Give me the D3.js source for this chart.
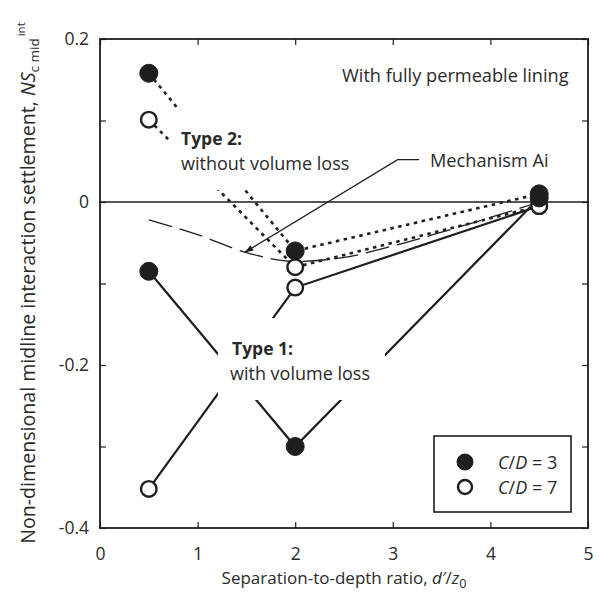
<!DOCTYPE html>
<html>
<head>
<meta charset="utf-8">
<script src="https://cdn.jsdelivr.net/npm/d3@7"></script>
<style>
  html, body { margin: 0; padding: 0; background: #fff; }
  svg { display: block; }
  text { font-family: "Open Sans", "Lato", sans-serif; fill: #2a2a2a; }
</style>
</head>
<body>
<script>
// Separation-to-depth ratios of the tunnel pairs
const separations = [0.5, 2, 4.5];

// Type 1 (with volume loss), solid lines
const type1CD3 = [-0.085, -0.30, 0.005];
const type1CD7 = [-0.352, -0.105, -0.005];

// Type 2 (without volume loss), dotted lines
const type2CD3 = [0.158, -0.06, 0.01];
const type2CD7 = [0.101, -0.08, -0.005];

// Mechanism Ai prediction curve
const mechX = [0.5, 1.0, 1.5, 2.0, 2.5, 3.0, 3.5, 4.0, 4.5];
const mechY = [-0.022, -0.04, -0.062, -0.073, -0.068, -0.054, -0.037, -0.019, 0.0];

// Axis ticks
const xTicks = [0, 1, 2, 3, 4, 5];
const yMajorTicks = [0.2, 0, -0.2, -0.4];
const yMinorTicks = [0.2, 0.1, 0, -0.1, -0.2, -0.3, -0.4];

const W = 601, H = 592;
const margin = { left: 100, right: 13, top: 39, bottom: 64 };

const svg = d3.select("body").append("svg").attr("width", W).attr("height", H);

const x = d3.scaleLinear().domain([0, 5]).range([margin.left, W - margin.right]);
const y = d3.scaleLinear().domain([-0.4, 0.2]).range([H - margin.bottom, margin.top]);

const ink = "#1e1e1e";
const FONT = '"Open Sans", sans-serif';

// Frame ticks (inward) on all four sides
const axB = d3.axisBottom(x).tickValues(xTicks).tickSize(-6).tickFormat("");
const axT = d3.axisTop(x).tickValues(xTicks).tickSize(-6).tickFormat("");
const axL = d3.axisLeft(y).tickValues(yMinorTicks).tickSize(-6).tickFormat("");
const axR = d3.axisRight(y).tickValues(yMinorTicks).tickSize(-6).tickFormat("");
[[axB, `translate(0,${y(-0.4)})`], [axT, `translate(0,${y(0.2)})`],
 [axL, `translate(${x(0)},0)`], [axR, `translate(${x(5)},0)`]].forEach(([ax, tr]) => {
  const g = svg.append("g").attr("transform", tr).call(ax);
  g.select(".domain").remove();
  g.selectAll("line").attr("stroke", ink).attr("stroke-width", 1.2);
});

// Tick labels
const xl = svg.append("g").attr("transform", `translate(0,${y(-0.4)})`)
  .call(d3.axisBottom(x).tickValues(xTicks).tickSize(0).tickPadding(20).tickFormat(d3.format("d")));
xl.select(".domain").remove();
xl.selectAll("text").style("font-size", "17.5px").style("font-family", FONT).attr("fill", "#2a2a2a");

const yl = svg.append("g").attr("transform", `translate(${x(0)},0)`)
  .call(d3.axisLeft(y).tickValues(yMajorTicks).tickSize(0).tickPadding(11)
    .tickFormat(d => d === 0 ? "0" : d3.format(".1f")(d).replace("\u2212", "-")));
yl.select(".domain").remove();
yl.selectAll("text").style("font-size", "17.5px").style("font-family", FONT).attr("fill", "#2a2a2a");

// Zero line
svg.append("line")
  .attr("x1", x(0)).attr("x2", x(5)).attr("y1", y(0)).attr("y2", y(0))
  .attr("stroke", ink).attr("stroke-width", 1.3);

// Mechanism Ai curve
const mechData = mechX.map((v, i) => [v, mechY[i]]);
svg.append("path")
  .datum(mechData)
  .attr("fill", "none").attr("stroke", ink).attr("stroke-width", 1.3)
  .attr("stroke-dasharray", "24,8")
  .attr("d", d3.line().x(d => x(d[0])).y(d => y(d[1])).curve(d3.curveMonotoneX));

const lineGen = d3.line().x(d => x(d[0])).y(d => y(d[1]));
const pts = arr => separations.map((s, i) => [s, arr[i]]);

// Type 2 dotted lines
[type2CD3, type2CD7].forEach(arr => {
  svg.append("path").datum(pts(arr))
    .attr("fill", "none").attr("stroke", ink).attr("stroke-width", 2.6)
    .attr("stroke-dasharray", "3.5,4.5")
    .attr("d", lineGen);
});

// Type 1 solid lines
[type1CD3, type1CD7].forEach(arr => {
  svg.append("path").datum(pts(arr))
    .attr("fill", "none").attr("stroke", ink).attr("stroke-width", 2.2)
    .attr("d", lineGen);
});

// White label backgrounds that break the lines
function labelBlock(x0, y0, w, h) {
  svg.append("rect").attr("x", x0).attr("y", y0).attr("width", w).attr("height", h).attr("fill", "#fff");
}
labelBlock(170, 110, 185, 80);
labelBlock(218, 318, 167, 82);

// Markers
function markers(arr, filled) {
  svg.append("g").selectAll("circle").data(pts(arr)).join("circle")
    .attr("cx", d => x(d[0])).attr("cy", d => y(d[1]))
    .attr("r", filled ? 9 : 7.8)
    .attr("fill", filled ? ink : "#fff")
    .attr("stroke", ink).attr("stroke-width", filled ? 1 : 2.4);
}
markers(type2CD7, false);
markers(type1CD7, false);
markers(type2CD3, true);
markers(type1CD3, true);

// Mechanism Ai leader
const leader = [[1.48, -0.062], [3.05, 0.052], [3.27, 0.052]];
svg.append("path")
  .attr("fill", "none").attr("stroke", ink).attr("stroke-width", 1.2)
  .attr("d", d3.line().x(d => x(d[0])).y(d => y(d[1]))(leader));
svg.append("path")
  .attr("fill", ink)
  .attr("d", () => {
    const x0 = x(leader[0][0]), y0 = y(leader[0][1]);
    const ang = Math.atan2(y(leader[1][1]) - y0, x(leader[1][0]) - x0);
    const L = 9, Wd = 3;
    const bx = x0 + L * Math.cos(ang), by = y0 + L * Math.sin(ang);
    const px = -Math.sin(ang) * Wd, py = Math.cos(ang) * Wd;
    return `M${x0},${y0}L${bx + px},${by + py}L${bx - px},${by - py}Z`;
  });

// Annotations
function txt(xp, yp, str, opts = {}) {
  return svg.append("text").attr("x", xp).attr("y", yp)
    .style("font-size", (opts.size || 18) + "px")
    .style("font-weight", opts.bold ? "bold" : "normal")
    .attr("text-anchor", opts.anchor || "start")
    .text(str);
}
txt(342, 82, "With fully permeable lining", { size: 18.2 });
txt(430, 167, "Mechanism Ai", { size: 18.2 });
txt(181, 145, "Type 2:", { bold: true, size: 17.5 });
txt(181, 170, "without volume loss", { size: 18 });
txt(232, 355, "Type 1:", { bold: true, size: 17.5 });
txt(230, 380, "with volume loss", { size: 18 });

// Legend
svg.append("rect").attr("x", 434).attr("y", 436).attr("width", 137).attr("height", 76)
  .attr("fill", "#fff").attr("stroke", ink).attr("stroke-width", 1.6);
const legendItems = [{ label: "3", filled: true }, { label: "7", filled: false }];
legendItems.forEach((it, i) => {
  const cy = 462 + i * 25;
  svg.append("circle").attr("cx", 465).attr("cy", cy).attr("r", it.filled ? 8 : 7)
    .attr("fill", it.filled ? ink : "#fff").attr("stroke", ink).attr("stroke-width", it.filled ? 1 : 2.4);
  const t = svg.append("text").attr("x", 498).attr("y", cy + 7).style("font-size", "18px");
  t.append("tspan").style("font-style", "italic").text("C");
  t.append("tspan").text("/");
  t.append("tspan").style("font-style", "italic").text("D");
  t.append("tspan").text(" = " + it.label);
});

// Frame
svg.append("rect")
  .attr("x", x(0)).attr("y", y(0.2)).attr("width", x(5) - x(0)).attr("height", y(-0.4) - y(0.2))
  .attr("fill", "none").attr("stroke", ink).attr("stroke-width", 1.8);

// X axis title
const xt = svg.append("text").attr("x", 344).attr("y", 584).attr("text-anchor", "middle").style("font-size", "17px");
xt.append("tspan").text("Separation-to-depth ratio, ");
xt.append("tspan").style("font-style", "italic").text("d′");
xt.append("tspan").text("/");
xt.append("tspan").style("font-style", "italic").text("z");
xt.append("tspan").attr("dy", 4).style("font-size", "12.5px").text("0");

// Y axis title
const yt = svg.append("text")
  .attr("transform", `translate(35,${283}) rotate(-90)`)
  .attr("text-anchor", "middle").style("font-size", "19.6px");
yt.append("tspan").text("Non-dimensional midline interaction settlement, ");
yt.append("tspan").style("font-style", "italic").text("NS");
yt.append("tspan").attr("dy", 4).style("font-size", "13.5px").text("c mid");
yt.append("tspan").attr("dy", -14).attr("dx", 2).style("font-size", "11.5px").text("int");
</script>
</body>
</html>
